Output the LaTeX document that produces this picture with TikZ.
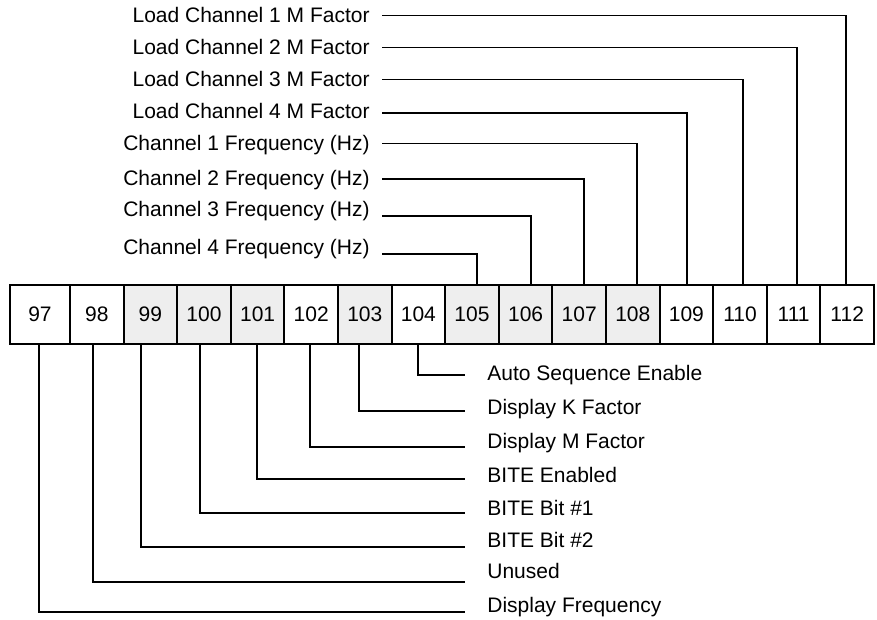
\documentclass[tikz,border=0pt]{standalone}
\usepackage{fontspec}
\setmainfont{Liberation Sans}
\usepackage{tikz}
\usetikzlibrary{positioning, calc}
\definecolor{cellgray}{RGB}{238,238,238}
\definecolor{wiredark}{RGB}{0,0,0}
\tikzset{
  cell/.style={rectangle, draw=wiredark, line width=1pt, minimum width=26.8pt,
    minimum height=29.5pt, inner sep=0pt, font=\fontsize{10.5}{12.6}\selectfont},
  shaded/.style={cell, fill=cellgray},
  wire/.style={line width=0.85pt, color=wiredark},
  toplbl/.style={anchor=east, inner xsep=6pt, inner ysep=0pt, text height=7.5pt,
    text depth=0pt, font=\fontsize{10.5}{12.6}\selectfont},
  botlbl/.style={anchor=west, inner xsep=11pt, inner ysep=0pt, text height=7.5pt,
    text depth=0pt, font=\fontsize{10.5}{12.6}\selectfont}
}

\begin{document}
\begin{tikzpicture}[x=0.5pt, y=-0.5pt]
\useasboundingbox (0,0) rectangle (877,620);
\node[cell, minimum width=30pt] (c97) at (40,314.5) {97};
\foreach \n/\s in {98/cell, 99/shaded, 100/shaded, 101/shaded, 102/cell, 103/shaded,
  104/cell, 105/shaded, 106/shaded, 107/shaded, 108/shaded, 109/cell, 110/cell,
  111/cell, 112/cell} {
  \pgfmathsetmacro\cx{96.8 + (\n-98)*53.6}
  \node[\s] (c\n) at (\cx,314.5) {\n};
}
\foreach \n/\lbl/\y/\dx/\dy in {112/Load Channel 1 M Factor/15.5/-0.6/0,
  111/Load Channel 2 M Factor/47.5/1.7/0, 110/Load Channel 3 M Factor/79.5/1.5/0,
  109/Load Channel 4 M Factor/111/0.3/-1, 108/Channel 1 Frequency (Hz)/143.5/2.1/0,
  107/Channel 2 Frequency (Hz)/178/2.4/-0.5, 106/Channel 3 Frequency (Hz)/209/2.7/-3.5,
  105/Channel 4 Frequency (Hz)/247.5/2.5/-3.2} {
  \node[toplbl] (t\n) at (382,\y) {\lbl};
  \draw[wire] ([yshift=\dy pt]t\n.east) -| ([xshift=\dx pt]c\n.north);
}
\foreach \n/\lbl/\y/\dx/\dy in {104/Auto Sequence Enable/373/-0.2/-1,
  103/Display K Factor/407/-2.9/-2, 102/Display M Factor/441/-0.6/-3,
  101/BITE Enabled/475/-0.3/-2, 100/BITE Bit \#1/507.5/-2/-2.8,
  99/BITE Bit \#2/540/-4.7/-3.5, 98/Unused/571/-1.9/-5.4,
  97/Display Frequency/605/-0.5/-3.5} {
  \node[botlbl] (b\n) at (465,\y) {\lbl};
  \draw[wire] ([xshift=\dx pt]c\n.south) |- ([yshift=\dy pt]b\n.west);
}
\end{tikzpicture}
\end{document}
